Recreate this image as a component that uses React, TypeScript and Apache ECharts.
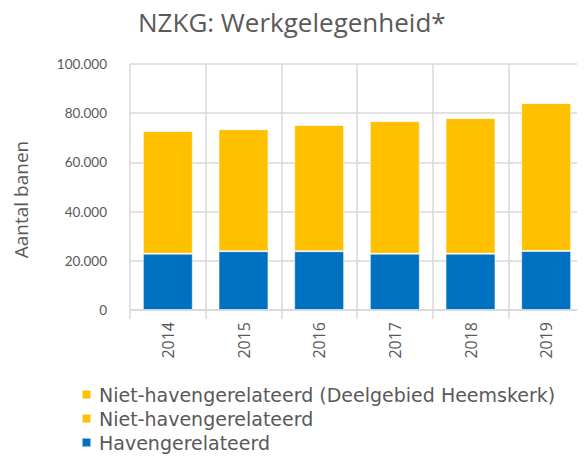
import React, { useEffect, useRef } from "react";
import * as echarts from "echarts";

const years = ["2014", "2015", "2016", "2017", "2018", "2019"];
const havengerelateerd = [22900, 23900, 23900, 22900, 22900, 24000];
const nietHavengerelateerd = [49900, 49600, 51300, 53900, 55100, 60100];
const nietHeemskerk = [0, 0, 0, 0, 0, 0];
const yTicks = [0, 20000, 40000, 60000, 80000, 100000];

const FONT = "'Open Sans', Lato, sans-serif";
const GREY = "#595959";

function fmt(v: number): string {
  return String(Math.round(v)).replace(/\B(?=(\d{3})+(?!\d))/g, ".");
}

export default function App() {
  const ref = useRef<HTMLDivElement>(null);
  useEffect(() => {
    if (!ref.current) return;
    const chart = echarts.init(ref.current, null, { renderer: "svg" });
    const barStyle = (color: string) => ({
      color,
      borderColor: "rgba(255,255,255,0.55)",
      borderWidth: 1,
    });
    chart.setOption({
      animation: false,
      textStyle: { fontFamily: FONT },
      title: {
        text: "NZKG: Werkgelegenheid*",
        left: 133,
        top: 4,
        textStyle: { fontFamily: FONT, fontSize: 26, fontWeight: "normal", color: GREY },
      },
      grid: { left: 130, right: 1, top: 64, bottom: 153, containLabel: false },
      legend: {
        orient: "vertical",
        left: 81,
        top: 385,
        height: 78,
        padding: 0,
        itemWidth: 9,
        itemHeight: 9,
        itemGap: 5,
        icon: "rect",
        data: [
          "Niet-havengerelateerd (Deelgebied Heemskerk)",
          "Niet-havengerelateerd",
          "Havengerelateerd",
        ],
        textStyle: {
          fontFamily: "'DejaVu Sans', sans-serif",
          fontSize: 19,
          color: GREY,
          padding: [0, 0, 0, 3],
        },
      },
      xAxis: {
        type: "category",
        data: years,
        boundaryGap: true,
        axisLine: { show: true, lineStyle: { color: "#d9d9d9", width: 1.5 } },
        axisTick: { show: true, length: 9, lineStyle: { color: "#d9d9d9", width: 1.5 } },
        splitLine: { show: true, lineStyle: { color: "#d9d9d9", width: 1.5 } },
        axisLabel: {
          rotate: 90,
          margin: 12,
          fontFamily: FONT,
          fontSize: 16,
          color: GREY,
        },
      },
      yAxis: {
        type: "value",
        min: yTicks[0],
        max: yTicks[yTicks.length - 1],
        interval: yTicks[1] - yTicks[0],
        name: "Aantal banen",
        nameLocation: "middle",
        nameGap: 100,
        nameRotate: 90,
        nameTextStyle: { fontFamily: FONT, fontSize: 19, color: GREY, padding: [0, 25, 0, 0] },
        axisLine: { show: false },
        axisTick: { show: false },
        splitLine: { show: true, lineStyle: { color: "#d9d9d9", width: 1.5 } },
        axisLabel: {
          margin: 23,
          fontFamily: "Lato, sans-serif",
          fontSize: 13.5,
          color: GREY,
          formatter: (v: number) => fmt(v),
        },
      },
      series: [
        {
          name: "Havengerelateerd",
          type: "bar",
          stack: "total",
          barCategoryGap: "34%",
          data: havengerelateerd,
          itemStyle: barStyle("#0070C0"),
        },
        {
          name: "Niet-havengerelateerd",
          type: "bar",
          stack: "total",
          data: nietHavengerelateerd,
          itemStyle: barStyle("#FFC000"),
        },
        {
          name: "Niet-havengerelateerd (Deelgebied Heemskerk)",
          type: "bar",
          stack: "total",
          data: nietHeemskerk,
          itemStyle: barStyle("#FFC000"),
        },
      ],
    });
    return () => chart.dispose();
  }, []);
  return <div ref={ref} style={{ width: 585, height: 463, margin: -8 }} />;
}
